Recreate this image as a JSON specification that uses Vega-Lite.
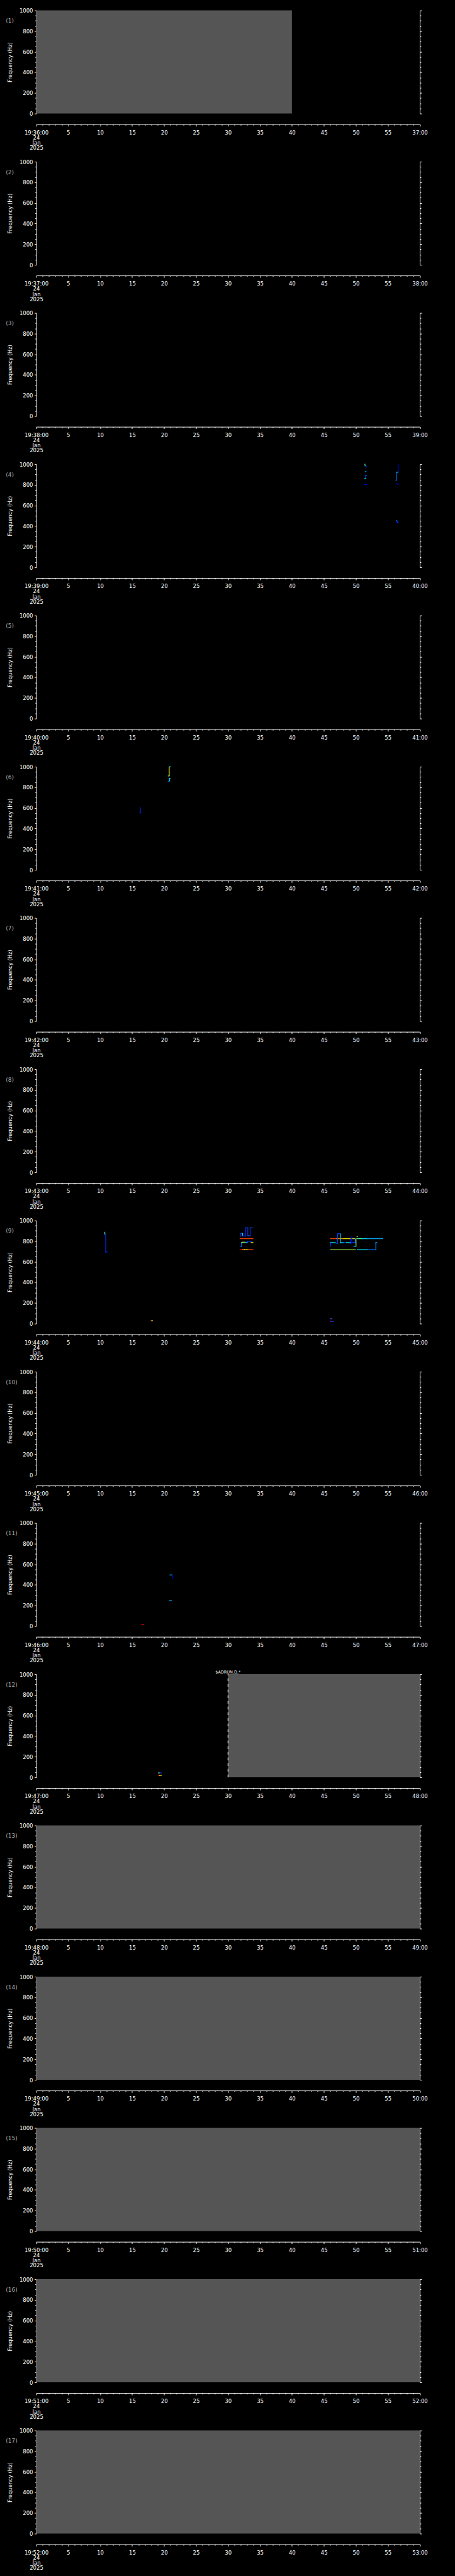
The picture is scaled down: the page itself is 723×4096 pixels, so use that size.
{
"$schema": "https://vega.github.io/schema/vega-lite/v6.json",
"background": "black",
"padding": {"left": 8.5, "top": 12.6, "right": 44, "bottom": 8},
"config": {
 "view": {"stroke": null},
 "font": "DejaVu Sans",
 "axis": {"domainColor": "white", "tickColor": "white", "labelColor": "white", "titleColor": "white", "labelFont": "DejaVu Sans", "labelFontSize": 8.5, "titleFont": "DejaVu Sans", "titleFontSize": 8.5, "titleFontWeight": "normal", "grid": false, "labelOverlap": false, "labelFlush": false, "labelBound": false, "domainWidth": 1, "tickWidth": 1},
 "axisX": {"labelPadding": 5.5, "labelLineHeight": 8.3},
 "axisY": {"labelPadding": 2.5, "titlePadding": 9.5}
},
"datasets": {"d": [
{"p":1,"k":"lab","lbl":"(1)"},{"p":2,"k":"lab","lbl":"(2)"},{"p":3,"k":"lab","lbl":"(3)"},{"p":4,"k":"lab","lbl":"(4)"},{"p":5,"k":"lab","lbl":"(5)"},{"p":6,"k":"lab","lbl":"(6)"},{"p":7,"k":"lab","lbl":"(7)"},{"p":8,"k":"lab","lbl":"(8)"},{"p":9,"k":"lab","lbl":"(9)"},{"p":10,"k":"lab","lbl":"(10)"},{"p":11,"k":"lab","lbl":"(11)"},{"p":12,"k":"lab","lbl":"(12)"},{"p":13,"k":"lab","lbl":"(13)"},{"p":14,"k":"lab","lbl":"(14)"},{"p":15,"k":"lab","lbl":"(15)"},{"p":16,"k":"lab","lbl":"(16)"},{"p":17,"k":"lab","lbl":"(17)"},
{"p":1,"k":"gap","t":0,"t2":40},
{"p":12,"k":"gap","t":30,"t2":60},
{"p":13,"k":"gap","t":0,"t2":60},
{"p":14,"k":"gap","t":0,"t2":60},
{"p":15,"k":"gap","t":0,"t2":60},
{"p":16,"k":"gap","t":0,"t2":60},
{"p":17,"k":"gap","t":0,"t2":60},
{"p":12,"k":"dash","t":30},
{"p":12,"k":"txt","t":30,"f":1000,"lbl":"$ADRUN,D,*"},
{"p":4,"k":"s","t":51.42,"t2":51.45,"f":1000,"f2":985,"v":0.5},
{"p":4,"k":"s","t":51.55,"t2":51.7,"f":980,"f2":980,"v":0.15},
{"p":4,"k":"s","t":51.46,"t2":51.62,"f":928,"f2":928,"v":0.3},
{"p":4,"k":"s","t":51.55,"t2":51.55,"f":893,"f2":863,"v":0.2},
{"p":4,"k":"s","t":51.55,"t2":51.71,"f":893,"f2":893,"v":0.2},
{"p":4,"k":"s","t":51.4,"t2":51.55,"f":863,"f2":863,"v":0.4},
{"p":4,"k":"s","t":51.4,"t2":51.67,"f":803,"f2":803,"v":0.12},
{"p":4,"k":"s","t":56.62,"t2":56.62,"f":1000,"f2":925,"v":0.12},
{"p":4,"k":"s","t":56.35,"t2":56.6,"f":922,"f2":922,"v":0.4},
{"p":4,"k":"s","t":56.34,"t2":56.34,"f":922,"f2":843,"v":0.25},
{"p":4,"k":"s","t":56.27,"t2":56.34,"f":845,"f2":845,"v":0.25},
{"p":4,"k":"s","t":56.34,"t2":56.65,"f":813,"f2":803,"v":0.12},
{"p":4,"k":"s","t":56.34,"t2":56.38,"f":451,"f2":451,"v":0.4},
{"p":4,"k":"s","t":56.48,"t2":56.48,"f":451,"f2":434,"v":0.15},
{"p":4,"k":"s","t":56.48,"t2":56.65,"f":434,"f2":434,"v":0.15},
{"p":6,"k":"s","t":20.81,"t2":20.81,"f":999,"f2":913,"v":0.75},
{"p":6,"k":"s","t":20.81,"t2":21.04,"f":999,"f2":999,"v":0.4},
{"p":6,"k":"s","t":20.65,"t2":20.8,"f":910,"f2":910,"v":0.5},
{"p":6,"k":"s","t":20.85,"t2":20.85,"f":887,"f2":861,"v":0.4},
{"p":6,"k":"s","t":20.85,"t2":20.95,"f":887,"f2":887,"v":0.4},
{"p":6,"k":"s","t":20.66,"t2":20.72,"f":858,"f2":858,"v":0.2},
{"p":6,"k":"s","t":16.28,"t2":16.28,"f":602,"f2":552,"v":0.15},
{"p":6,"k":"s","t":16.28,"t2":16.38,"f":552,"f2":552,"v":0.15},
{"p":9,"k":"s","t":10.74,"t2":10.74,"f":885,"f2":866,"v":0.5},
{"p":9,"k":"s","t":10.74,"t2":10.88,"f":866,"f2":866,"v":0.3},
{"p":9,"k":"s","t":10.88,"t2":10.88,"f":866,"f2":694,"v":0.15},
{"p":9,"k":"s","t":10.88,"t2":11.12,"f":694,"f2":694,"v":0.15},
{"p":9,"k":"s","t":17.94,"t2":18.06,"f":28,"f2":28,"v":1},
{"p":9,"k":"s","t":18.06,"t2":18.2,"f":28,"f2":28,"v":0.6},
{"p":9,"k":"s","t":31.89,"t2":33.91,"f":823,"f2":823,"v":0.97},
{"p":9,"k":"s","t":31.89,"t2":32.01,"f":849,"f2":849,"v":0.15},
{"p":9,"k":"s","t":32.01,"t2":32.01,"f":849,"f2":875,"v":0.15},
{"p":9,"k":"s","t":32.01,"t2":32.24,"f":875,"f2":875,"v":0.2},
{"p":9,"k":"s","t":32.29,"t2":32.29,"f":875,"f2":849,"v":0.4},
{"p":9,"k":"s","t":32.29,"t2":32.75,"f":849,"f2":849,"v":0.15},
{"p":9,"k":"s","t":32.75,"t2":32.75,"f":849,"f2":928,"v":0.15},
{"p":9,"k":"s","t":32.75,"t2":33.1,"f":928,"f2":928,"v":0.22},
{"p":9,"k":"s","t":33.1,"t2":33.1,"f":928,"f2":852,"v":0.15},
{"p":9,"k":"s","t":33.1,"t2":33.47,"f":852,"f2":852,"v":0.2},
{"p":9,"k":"s","t":33.47,"t2":33.47,"f":852,"f2":928,"v":0.15},
{"p":9,"k":"s","t":33.47,"t2":33.82,"f":928,"f2":928,"v":0.2},
{"p":9,"k":"s","t":32.01,"t2":32.12,"f":749,"f2":749,"v":0.3},
{"p":9,"k":"s","t":32.12,"t2":32.12,"f":749,"f2":785,"v":0.25},
{"p":9,"k":"s","t":32.12,"t2":32.24,"f":785,"f2":785,"v":0.5},
{"p":9,"k":"s","t":32.24,"t2":32.7,"f":789,"f2":789,"v":0.62},
{"p":9,"k":"s","t":32.7,"t2":33.05,"f":785,"f2":785,"v":0.4},
{"p":9,"k":"s","t":33.05,"t2":33.05,"f":785,"f2":799,"v":0.15},
{"p":9,"k":"s","t":33.05,"t2":33.63,"f":799,"f2":799,"v":0.18},
{"p":9,"k":"s","t":33.63,"t2":33.63,"f":799,"f2":785,"v":0.15},
{"p":9,"k":"s","t":33.63,"t2":33.91,"f":785,"f2":785,"v":0.72},
{"p":9,"k":"s","t":31.89,"t2":32.3,"f":717,"f2":717,"v":1},
{"p":9,"k":"s","t":32.3,"t2":32.6,"f":717,"f2":717,"v":0.85},
{"p":9,"k":"s","t":32.6,"t2":33.1,"f":717,"f2":717,"v":0.72},
{"p":9,"k":"s","t":33.1,"t2":33.91,"f":717,"f2":717,"v":0.95},
{"p":9,"k":"s","t":46.0,"t2":47.0,"f":823,"f2":823,"v":0.97},
{"p":9,"k":"s","t":47.0,"t2":48.1,"f":823,"f2":823,"v":0.85},
{"p":9,"k":"s","t":48.1,"t2":49.95,"f":823,"f2":823,"v":0.72},
{"p":9,"k":"s","t":50.17,"t2":51.0,"f":823,"f2":823,"v":0.5},
{"p":9,"k":"s","t":51.0,"t2":51.8,"f":823,"f2":823,"v":0.42},
{"p":9,"k":"s","t":51.8,"t2":54.22,"f":823,"f2":823,"v":0.33},
{"p":9,"k":"s","t":46.05,"t2":46.05,"f":749,"f2":785,"v":0.15},
{"p":9,"k":"s","t":46.05,"t2":46.8,"f":785,"f2":785,"v":0.42},
{"p":9,"k":"s","t":46.92,"t2":47.16,"f":777,"f2":777,"v":0.18},
{"p":9,"k":"s","t":47.16,"t2":47.16,"f":785,"f2":871,"v":0.18},
{"p":9,"k":"s","t":47.16,"t2":47.51,"f":871,"f2":871,"v":0.18},
{"p":9,"k":"s","t":47.58,"t2":47.58,"f":871,"f2":785,"v":0.4},
{"p":9,"k":"s","t":47.58,"t2":48.09,"f":785,"f2":785,"v":0.42},
{"p":9,"k":"s","t":48.09,"t2":48.55,"f":785,"f2":785,"v":0.18},
{"p":9,"k":"s","t":48.55,"t2":49.13,"f":785,"f2":785,"v":0.45},
{"p":9,"k":"s","t":49.24,"t2":49.24,"f":823,"f2":777,"v":0.15},
{"p":9,"k":"s","t":49.36,"t2":49.36,"f":846,"f2":777,"v":0.1},
{"p":9,"k":"s","t":49.48,"t2":49.9,"f":785,"f2":785,"v":0.18},
{"p":9,"k":"s","t":49.9,"t2":49.9,"f":823,"f2":785,"v":0.18},
{"p":9,"k":"s","t":49.7,"t2":49.9,"f":749,"f2":749,"v":0.35},
{"p":9,"k":"s","t":50.03,"t2":50.03,"f":749,"f2":823,"v":0.6},
{"p":9,"k":"s","t":50.17,"t2":50.28,"f":845,"f2":845,"v":0.6},
{"p":9,"k":"s","t":46.05,"t2":49.94,"f":717,"f2":717,"v":0.6},
{"p":9,"k":"s","t":50.2,"t2":51.79,"f":717,"f2":717,"v":0.42},
{"p":9,"k":"s","t":51.79,"t2":53.13,"f":717,"f2":717,"v":0.25},
{"p":9,"k":"s","t":53.13,"t2":53.13,"f":717,"f2":785,"v":0.28},
{"p":9,"k":"s","t":53.13,"t2":53.29,"f":785,"f2":785,"v":0.3},
{"p":9,"k":"s","t":46.0,"t2":46.1,"f":47,"f2":47,"v":1},
{"p":9,"k":"s","t":46.1,"t2":46.28,"f":47,"f2":47,"v":0.2},
{"p":9,"k":"s","t":46.0,"t2":46.15,"f":21,"f2":21,"v":1},
{"p":9,"k":"s","t":46.15,"t2":46.51,"f":21,"f2":21,"v":0.15},
{"p":11,"k":"s","t":20.93,"t2":21.25,"f":496,"f2":496,"v":0.35},
{"p":11,"k":"s","t":21.3,"t2":21.3,"f":494,"f2":458,"v":0.1},
{"p":11,"k":"s","t":20.84,"t2":21.16,"f":246,"f2":246,"v":0.35},
{"p":11,"k":"s","t":16.48,"t2":16.85,"f":17,"f2":17,"v":1},
{"p":12,"k":"s","t":19.12,"t2":19.35,"f":43,"f2":43,"v":0.55},
{"p":12,"k":"s","t":19.35,"t2":19.57,"f":43,"f2":43,"v":0.15},
{"p":12,"k":"s","t":19.12,"t2":19.3,"f":18,"f2":18,"v":1},
{"p":12,"k":"s","t":19.3,"t2":19.57,"f":18,"f2":18,"v":0.7}
]},
"data": {"name": "d"},
"bounds": "flush",
"spacing": 76.5,
"vconcat": [
{"width": 609.5, "height": 164, "transform": [{"filter": "datum.p == 1"}], "resolve": {"axis": {"x": "independent", "y": "independent"}}, "layer": [
 {"transform": [{"filter": "datum.k == 'gap'"}], "mark": {"type": "rect", "color": "#555555"}, "encoding": {
  "x": {"field": "t", "type": "quantitative", "scale": {"domain": [0, 60], "nice": false}, "axis": {"orient": "bottom", "title": null, "offset": 17, "tickCount": 60, "tickSize": {"condition": {"test": "datum.value % 5 == 0", "value": 3}, "value": 1.6}, "labelExpr": "datum.value == 0 ? ['19:36:00','24','Jan','2025'] : datum.value == 60 ? '37:00' : datum.value % 5 == 0 ? datum.label : ''"}},
  "x2": {"field": "t2"},
  "y": {"datum": 0, "type": "quantitative", "scale": {"domain": [0, 1000], "nice": false}, "axis": {"orient": "left", "title": "Frequency (Hz)", "format": "d", "tickCount": 20, "tickSize": {"condition": {"test": "datum.value % 200 == 0", "value": 3}, "value": 1.9}, "labelExpr": "datum.value % 200 == 0 ? datum.label : ''"}},
  "y2": {"datum": 1000}}},
 {"transform": [{"filter": "datum.k == 'dash'"}], "mark": {"type": "rule", "color": "white", "strokeWidth": 1, "strokeDash": [4.5, 4.5]}, "encoding": {
  "x": {"field": "t", "type": "quantitative", "scale": {"domain": [0, 60], "nice": false}, "axis": null},
  "y": {"datum": 0, "type": "quantitative", "scale": {"domain": [0, 1000], "nice": false}, "axis": {"orient": "right", "title": null, "labels": false, "tickCount": 20, "tickSize": {"condition": {"test": "datum.value % 200 == 0", "value": 3}, "value": 1.9}}},
  "y2": {"datum": 1000}}},
 {"transform": [{"filter": "datum.k == 'lab'"}], "mark": {"type": "text", "color": "#aaaaaa", "fontSize": 9, "align": "left", "baseline": "middle"}, "encoding": {
  "x": {"datum": -4.74, "type": "quantitative", "scale": {"domain": [0, 60], "nice": false}, "axis": null},
  "y": {"datum": 897, "type": "quantitative", "scale": {"domain": [0, 1000], "nice": false}, "axis": null},
  "text": {"field": "lbl"}}}
]},
{"width": 609.5, "height": 164, "transform": [{"filter": "datum.p == 2"}], "resolve": {"axis": {"x": "independent", "y": "independent"}}, "layer": [
 {"transform": [{"filter": "datum.k == 'gap'"}], "mark": {"type": "rect", "color": "#555555"}, "encoding": {
  "x": {"field": "t", "type": "quantitative", "scale": {"domain": [0, 60], "nice": false}, "axis": {"orient": "bottom", "title": null, "offset": 17, "tickCount": 60, "tickSize": {"condition": {"test": "datum.value % 5 == 0", "value": 3}, "value": 1.6}, "labelExpr": "datum.value == 0 ? ['19:37:00','24','Jan','2025'] : datum.value == 60 ? '38:00' : datum.value % 5 == 0 ? datum.label : ''"}},
  "x2": {"field": "t2"},
  "y": {"datum": 0, "type": "quantitative", "scale": {"domain": [0, 1000], "nice": false}, "axis": {"orient": "left", "title": "Frequency (Hz)", "format": "d", "tickCount": 20, "tickSize": {"condition": {"test": "datum.value % 200 == 0", "value": 3}, "value": 1.9}, "labelExpr": "datum.value % 200 == 0 ? datum.label : ''"}},
  "y2": {"datum": 1000}}},
 {"transform": [{"filter": "datum.k == 'dash'"}], "mark": {"type": "rule", "color": "white", "strokeWidth": 1, "strokeDash": [4.5, 4.5]}, "encoding": {
  "x": {"field": "t", "type": "quantitative", "scale": {"domain": [0, 60], "nice": false}, "axis": null},
  "y": {"datum": 0, "type": "quantitative", "scale": {"domain": [0, 1000], "nice": false}, "axis": {"orient": "right", "title": null, "labels": false, "tickCount": 20, "tickSize": {"condition": {"test": "datum.value % 200 == 0", "value": 3}, "value": 1.9}}},
  "y2": {"datum": 1000}}},
 {"transform": [{"filter": "datum.k == 'lab'"}], "mark": {"type": "text", "color": "#aaaaaa", "fontSize": 9, "align": "left", "baseline": "middle"}, "encoding": {
  "x": {"datum": -4.74, "type": "quantitative", "scale": {"domain": [0, 60], "nice": false}, "axis": null},
  "y": {"datum": 897, "type": "quantitative", "scale": {"domain": [0, 1000], "nice": false}, "axis": null},
  "text": {"field": "lbl"}}}
]},
{"width": 609.5, "height": 164, "transform": [{"filter": "datum.p == 3"}], "resolve": {"axis": {"x": "independent", "y": "independent"}}, "layer": [
 {"transform": [{"filter": "datum.k == 'gap'"}], "mark": {"type": "rect", "color": "#555555"}, "encoding": {
  "x": {"field": "t", "type": "quantitative", "scale": {"domain": [0, 60], "nice": false}, "axis": {"orient": "bottom", "title": null, "offset": 17, "tickCount": 60, "tickSize": {"condition": {"test": "datum.value % 5 == 0", "value": 3}, "value": 1.6}, "labelExpr": "datum.value == 0 ? ['19:38:00','24','Jan','2025'] : datum.value == 60 ? '39:00' : datum.value % 5 == 0 ? datum.label : ''"}},
  "x2": {"field": "t2"},
  "y": {"datum": 0, "type": "quantitative", "scale": {"domain": [0, 1000], "nice": false}, "axis": {"orient": "left", "title": "Frequency (Hz)", "format": "d", "tickCount": 20, "tickSize": {"condition": {"test": "datum.value % 200 == 0", "value": 3}, "value": 1.9}, "labelExpr": "datum.value % 200 == 0 ? datum.label : ''"}},
  "y2": {"datum": 1000}}},
 {"transform": [{"filter": "datum.k == 'dash'"}], "mark": {"type": "rule", "color": "white", "strokeWidth": 1, "strokeDash": [4.5, 4.5]}, "encoding": {
  "x": {"field": "t", "type": "quantitative", "scale": {"domain": [0, 60], "nice": false}, "axis": null},
  "y": {"datum": 0, "type": "quantitative", "scale": {"domain": [0, 1000], "nice": false}, "axis": {"orient": "right", "title": null, "labels": false, "tickCount": 20, "tickSize": {"condition": {"test": "datum.value % 200 == 0", "value": 3}, "value": 1.9}}},
  "y2": {"datum": 1000}}},
 {"transform": [{"filter": "datum.k == 'lab'"}], "mark": {"type": "text", "color": "#aaaaaa", "fontSize": 9, "align": "left", "baseline": "middle"}, "encoding": {
  "x": {"datum": -4.74, "type": "quantitative", "scale": {"domain": [0, 60], "nice": false}, "axis": null},
  "y": {"datum": 897, "type": "quantitative", "scale": {"domain": [0, 1000], "nice": false}, "axis": null},
  "text": {"field": "lbl"}}}
]},
{"width": 609.5, "height": 164, "transform": [{"filter": "datum.p == 4"}], "resolve": {"axis": {"x": "independent", "y": "independent"}}, "layer": [
 {"transform": [{"filter": "datum.k == 'gap'"}], "mark": {"type": "rect", "color": "#555555"}, "encoding": {
  "x": {"field": "t", "type": "quantitative", "scale": {"domain": [0, 60], "nice": false}, "axis": {"orient": "bottom", "title": null, "offset": 17, "tickCount": 60, "tickSize": {"condition": {"test": "datum.value % 5 == 0", "value": 3}, "value": 1.6}, "labelExpr": "datum.value == 0 ? ['19:39:00','24','Jan','2025'] : datum.value == 60 ? '40:00' : datum.value % 5 == 0 ? datum.label : ''"}},
  "x2": {"field": "t2"},
  "y": {"datum": 0, "type": "quantitative", "scale": {"domain": [0, 1000], "nice": false}, "axis": {"orient": "left", "title": "Frequency (Hz)", "format": "d", "tickCount": 20, "tickSize": {"condition": {"test": "datum.value % 200 == 0", "value": 3}, "value": 1.9}, "labelExpr": "datum.value % 200 == 0 ? datum.label : ''"}},
  "y2": {"datum": 1000}}},
 {"transform": [{"filter": "datum.k == 'dash'"}], "mark": {"type": "rule", "color": "white", "strokeWidth": 1, "strokeDash": [4.5, 4.5]}, "encoding": {
  "x": {"field": "t", "type": "quantitative", "scale": {"domain": [0, 60], "nice": false}, "axis": null},
  "y": {"datum": 0, "type": "quantitative", "scale": {"domain": [0, 1000], "nice": false}, "axis": {"orient": "right", "title": null, "labels": false, "tickCount": 20, "tickSize": {"condition": {"test": "datum.value % 200 == 0", "value": 3}, "value": 1.9}}},
  "y2": {"datum": 1000}}},
 {"transform": [{"filter": "datum.k == 's'"}], "mark": {"type": "rule", "strokeWidth": 1.2, "strokeCap": "square"}, "encoding": {
  "x": {"field": "t", "type": "quantitative", "scale": {"domain": [0, 60], "nice": false}, "axis": null},
  "x2": {"field": "t2"},
  "y": {"field": "f", "type": "quantitative", "scale": {"domain": [0, 1000], "nice": false}, "axis": null},
  "y2": {"field": "f2"},
  "color": {"field": "v", "type": "quantitative", "scale": {"domain": [0, 0.125, 0.25, 0.375, 0.5, 0.625, 0.75, 0.875, 1], "range": ["#0000c0", "#0000ff", "#0070ff", "#00d0ff", "#50ffb0", "#c8ff38", "#ffe800", "#ff8800", "#ff0000"]}, "legend": null}}},
 {"transform": [{"filter": "datum.k == 'lab'"}], "mark": {"type": "text", "color": "#aaaaaa", "fontSize": 9, "align": "left", "baseline": "middle"}, "encoding": {
  "x": {"datum": -4.74, "type": "quantitative", "scale": {"domain": [0, 60], "nice": false}, "axis": null},
  "y": {"datum": 897, "type": "quantitative", "scale": {"domain": [0, 1000], "nice": false}, "axis": null},
  "text": {"field": "lbl"}}}
]},
{"width": 609.5, "height": 164, "transform": [{"filter": "datum.p == 5"}], "resolve": {"axis": {"x": "independent", "y": "independent"}}, "layer": [
 {"transform": [{"filter": "datum.k == 'gap'"}], "mark": {"type": "rect", "color": "#555555"}, "encoding": {
  "x": {"field": "t", "type": "quantitative", "scale": {"domain": [0, 60], "nice": false}, "axis": {"orient": "bottom", "title": null, "offset": 17, "tickCount": 60, "tickSize": {"condition": {"test": "datum.value % 5 == 0", "value": 3}, "value": 1.6}, "labelExpr": "datum.value == 0 ? ['19:40:00','24','Jan','2025'] : datum.value == 60 ? '41:00' : datum.value % 5 == 0 ? datum.label : ''"}},
  "x2": {"field": "t2"},
  "y": {"datum": 0, "type": "quantitative", "scale": {"domain": [0, 1000], "nice": false}, "axis": {"orient": "left", "title": "Frequency (Hz)", "format": "d", "tickCount": 20, "tickSize": {"condition": {"test": "datum.value % 200 == 0", "value": 3}, "value": 1.9}, "labelExpr": "datum.value % 200 == 0 ? datum.label : ''"}},
  "y2": {"datum": 1000}}},
 {"transform": [{"filter": "datum.k == 'dash'"}], "mark": {"type": "rule", "color": "white", "strokeWidth": 1, "strokeDash": [4.5, 4.5]}, "encoding": {
  "x": {"field": "t", "type": "quantitative", "scale": {"domain": [0, 60], "nice": false}, "axis": null},
  "y": {"datum": 0, "type": "quantitative", "scale": {"domain": [0, 1000], "nice": false}, "axis": {"orient": "right", "title": null, "labels": false, "tickCount": 20, "tickSize": {"condition": {"test": "datum.value % 200 == 0", "value": 3}, "value": 1.9}}},
  "y2": {"datum": 1000}}},
 {"transform": [{"filter": "datum.k == 'lab'"}], "mark": {"type": "text", "color": "#aaaaaa", "fontSize": 9, "align": "left", "baseline": "middle"}, "encoding": {
  "x": {"datum": -4.74, "type": "quantitative", "scale": {"domain": [0, 60], "nice": false}, "axis": null},
  "y": {"datum": 897, "type": "quantitative", "scale": {"domain": [0, 1000], "nice": false}, "axis": null},
  "text": {"field": "lbl"}}}
]},
{"width": 609.5, "height": 164, "transform": [{"filter": "datum.p == 6"}], "resolve": {"axis": {"x": "independent", "y": "independent"}}, "layer": [
 {"transform": [{"filter": "datum.k == 'gap'"}], "mark": {"type": "rect", "color": "#555555"}, "encoding": {
  "x": {"field": "t", "type": "quantitative", "scale": {"domain": [0, 60], "nice": false}, "axis": {"orient": "bottom", "title": null, "offset": 17, "tickCount": 60, "tickSize": {"condition": {"test": "datum.value % 5 == 0", "value": 3}, "value": 1.6}, "labelExpr": "datum.value == 0 ? ['19:41:00','24','Jan','2025'] : datum.value == 60 ? '42:00' : datum.value % 5 == 0 ? datum.label : ''"}},
  "x2": {"field": "t2"},
  "y": {"datum": 0, "type": "quantitative", "scale": {"domain": [0, 1000], "nice": false}, "axis": {"orient": "left", "title": "Frequency (Hz)", "format": "d", "tickCount": 20, "tickSize": {"condition": {"test": "datum.value % 200 == 0", "value": 3}, "value": 1.9}, "labelExpr": "datum.value % 200 == 0 ? datum.label : ''"}},
  "y2": {"datum": 1000}}},
 {"transform": [{"filter": "datum.k == 'dash'"}], "mark": {"type": "rule", "color": "white", "strokeWidth": 1, "strokeDash": [4.5, 4.5]}, "encoding": {
  "x": {"field": "t", "type": "quantitative", "scale": {"domain": [0, 60], "nice": false}, "axis": null},
  "y": {"datum": 0, "type": "quantitative", "scale": {"domain": [0, 1000], "nice": false}, "axis": {"orient": "right", "title": null, "labels": false, "tickCount": 20, "tickSize": {"condition": {"test": "datum.value % 200 == 0", "value": 3}, "value": 1.9}}},
  "y2": {"datum": 1000}}},
 {"transform": [{"filter": "datum.k == 's'"}], "mark": {"type": "rule", "strokeWidth": 1.2, "strokeCap": "square"}, "encoding": {
  "x": {"field": "t", "type": "quantitative", "scale": {"domain": [0, 60], "nice": false}, "axis": null},
  "x2": {"field": "t2"},
  "y": {"field": "f", "type": "quantitative", "scale": {"domain": [0, 1000], "nice": false}, "axis": null},
  "y2": {"field": "f2"},
  "color": {"field": "v", "type": "quantitative", "scale": {"domain": [0, 0.125, 0.25, 0.375, 0.5, 0.625, 0.75, 0.875, 1], "range": ["#0000c0", "#0000ff", "#0070ff", "#00d0ff", "#50ffb0", "#c8ff38", "#ffe800", "#ff8800", "#ff0000"]}, "legend": null}}},
 {"transform": [{"filter": "datum.k == 'lab'"}], "mark": {"type": "text", "color": "#aaaaaa", "fontSize": 9, "align": "left", "baseline": "middle"}, "encoding": {
  "x": {"datum": -4.74, "type": "quantitative", "scale": {"domain": [0, 60], "nice": false}, "axis": null},
  "y": {"datum": 897, "type": "quantitative", "scale": {"domain": [0, 1000], "nice": false}, "axis": null},
  "text": {"field": "lbl"}}}
]},
{"width": 609.5, "height": 164, "transform": [{"filter": "datum.p == 7"}], "resolve": {"axis": {"x": "independent", "y": "independent"}}, "layer": [
 {"transform": [{"filter": "datum.k == 'gap'"}], "mark": {"type": "rect", "color": "#555555"}, "encoding": {
  "x": {"field": "t", "type": "quantitative", "scale": {"domain": [0, 60], "nice": false}, "axis": {"orient": "bottom", "title": null, "offset": 17, "tickCount": 60, "tickSize": {"condition": {"test": "datum.value % 5 == 0", "value": 3}, "value": 1.6}, "labelExpr": "datum.value == 0 ? ['19:42:00','24','Jan','2025'] : datum.value == 60 ? '43:00' : datum.value % 5 == 0 ? datum.label : ''"}},
  "x2": {"field": "t2"},
  "y": {"datum": 0, "type": "quantitative", "scale": {"domain": [0, 1000], "nice": false}, "axis": {"orient": "left", "title": "Frequency (Hz)", "format": "d", "tickCount": 20, "tickSize": {"condition": {"test": "datum.value % 200 == 0", "value": 3}, "value": 1.9}, "labelExpr": "datum.value % 200 == 0 ? datum.label : ''"}},
  "y2": {"datum": 1000}}},
 {"transform": [{"filter": "datum.k == 'dash'"}], "mark": {"type": "rule", "color": "white", "strokeWidth": 1, "strokeDash": [4.5, 4.5]}, "encoding": {
  "x": {"field": "t", "type": "quantitative", "scale": {"domain": [0, 60], "nice": false}, "axis": null},
  "y": {"datum": 0, "type": "quantitative", "scale": {"domain": [0, 1000], "nice": false}, "axis": {"orient": "right", "title": null, "labels": false, "tickCount": 20, "tickSize": {"condition": {"test": "datum.value % 200 == 0", "value": 3}, "value": 1.9}}},
  "y2": {"datum": 1000}}},
 {"transform": [{"filter": "datum.k == 'lab'"}], "mark": {"type": "text", "color": "#aaaaaa", "fontSize": 9, "align": "left", "baseline": "middle"}, "encoding": {
  "x": {"datum": -4.74, "type": "quantitative", "scale": {"domain": [0, 60], "nice": false}, "axis": null},
  "y": {"datum": 897, "type": "quantitative", "scale": {"domain": [0, 1000], "nice": false}, "axis": null},
  "text": {"field": "lbl"}}}
]},
{"width": 609.5, "height": 164, "transform": [{"filter": "datum.p == 8"}], "resolve": {"axis": {"x": "independent", "y": "independent"}}, "layer": [
 {"transform": [{"filter": "datum.k == 'gap'"}], "mark": {"type": "rect", "color": "#555555"}, "encoding": {
  "x": {"field": "t", "type": "quantitative", "scale": {"domain": [0, 60], "nice": false}, "axis": {"orient": "bottom", "title": null, "offset": 17, "tickCount": 60, "tickSize": {"condition": {"test": "datum.value % 5 == 0", "value": 3}, "value": 1.6}, "labelExpr": "datum.value == 0 ? ['19:43:00','24','Jan','2025'] : datum.value == 60 ? '44:00' : datum.value % 5 == 0 ? datum.label : ''"}},
  "x2": {"field": "t2"},
  "y": {"datum": 0, "type": "quantitative", "scale": {"domain": [0, 1000], "nice": false}, "axis": {"orient": "left", "title": "Frequency (Hz)", "format": "d", "tickCount": 20, "tickSize": {"condition": {"test": "datum.value % 200 == 0", "value": 3}, "value": 1.9}, "labelExpr": "datum.value % 200 == 0 ? datum.label : ''"}},
  "y2": {"datum": 1000}}},
 {"transform": [{"filter": "datum.k == 'dash'"}], "mark": {"type": "rule", "color": "white", "strokeWidth": 1, "strokeDash": [4.5, 4.5]}, "encoding": {
  "x": {"field": "t", "type": "quantitative", "scale": {"domain": [0, 60], "nice": false}, "axis": null},
  "y": {"datum": 0, "type": "quantitative", "scale": {"domain": [0, 1000], "nice": false}, "axis": {"orient": "right", "title": null, "labels": false, "tickCount": 20, "tickSize": {"condition": {"test": "datum.value % 200 == 0", "value": 3}, "value": 1.9}}},
  "y2": {"datum": 1000}}},
 {"transform": [{"filter": "datum.k == 'lab'"}], "mark": {"type": "text", "color": "#aaaaaa", "fontSize": 9, "align": "left", "baseline": "middle"}, "encoding": {
  "x": {"datum": -4.74, "type": "quantitative", "scale": {"domain": [0, 60], "nice": false}, "axis": null},
  "y": {"datum": 897, "type": "quantitative", "scale": {"domain": [0, 1000], "nice": false}, "axis": null},
  "text": {"field": "lbl"}}}
]},
{"width": 609.5, "height": 164, "transform": [{"filter": "datum.p == 9"}], "resolve": {"axis": {"x": "independent", "y": "independent"}}, "layer": [
 {"transform": [{"filter": "datum.k == 'gap'"}], "mark": {"type": "rect", "color": "#555555"}, "encoding": {
  "x": {"field": "t", "type": "quantitative", "scale": {"domain": [0, 60], "nice": false}, "axis": {"orient": "bottom", "title": null, "offset": 17, "tickCount": 60, "tickSize": {"condition": {"test": "datum.value % 5 == 0", "value": 3}, "value": 1.6}, "labelExpr": "datum.value == 0 ? ['19:44:00','24','Jan','2025'] : datum.value == 60 ? '45:00' : datum.value % 5 == 0 ? datum.label : ''"}},
  "x2": {"field": "t2"},
  "y": {"datum": 0, "type": "quantitative", "scale": {"domain": [0, 1000], "nice": false}, "axis": {"orient": "left", "title": "Frequency (Hz)", "format": "d", "tickCount": 20, "tickSize": {"condition": {"test": "datum.value % 200 == 0", "value": 3}, "value": 1.9}, "labelExpr": "datum.value % 200 == 0 ? datum.label : ''"}},
  "y2": {"datum": 1000}}},
 {"transform": [{"filter": "datum.k == 'dash'"}], "mark": {"type": "rule", "color": "white", "strokeWidth": 1, "strokeDash": [4.5, 4.5]}, "encoding": {
  "x": {"field": "t", "type": "quantitative", "scale": {"domain": [0, 60], "nice": false}, "axis": null},
  "y": {"datum": 0, "type": "quantitative", "scale": {"domain": [0, 1000], "nice": false}, "axis": {"orient": "right", "title": null, "labels": false, "tickCount": 20, "tickSize": {"condition": {"test": "datum.value % 200 == 0", "value": 3}, "value": 1.9}}},
  "y2": {"datum": 1000}}},
 {"transform": [{"filter": "datum.k == 's'"}], "mark": {"type": "rule", "strokeWidth": 1.2, "strokeCap": "square"}, "encoding": {
  "x": {"field": "t", "type": "quantitative", "scale": {"domain": [0, 60], "nice": false}, "axis": null},
  "x2": {"field": "t2"},
  "y": {"field": "f", "type": "quantitative", "scale": {"domain": [0, 1000], "nice": false}, "axis": null},
  "y2": {"field": "f2"},
  "color": {"field": "v", "type": "quantitative", "scale": {"domain": [0, 0.125, 0.25, 0.375, 0.5, 0.625, 0.75, 0.875, 1], "range": ["#0000c0", "#0000ff", "#0070ff", "#00d0ff", "#50ffb0", "#c8ff38", "#ffe800", "#ff8800", "#ff0000"]}, "legend": null}}},
 {"transform": [{"filter": "datum.k == 'lab'"}], "mark": {"type": "text", "color": "#aaaaaa", "fontSize": 9, "align": "left", "baseline": "middle"}, "encoding": {
  "x": {"datum": -4.74, "type": "quantitative", "scale": {"domain": [0, 60], "nice": false}, "axis": null},
  "y": {"datum": 897, "type": "quantitative", "scale": {"domain": [0, 1000], "nice": false}, "axis": null},
  "text": {"field": "lbl"}}}
]},
{"width": 609.5, "height": 164, "transform": [{"filter": "datum.p == 10"}], "resolve": {"axis": {"x": "independent", "y": "independent"}}, "layer": [
 {"transform": [{"filter": "datum.k == 'gap'"}], "mark": {"type": "rect", "color": "#555555"}, "encoding": {
  "x": {"field": "t", "type": "quantitative", "scale": {"domain": [0, 60], "nice": false}, "axis": {"orient": "bottom", "title": null, "offset": 17, "tickCount": 60, "tickSize": {"condition": {"test": "datum.value % 5 == 0", "value": 3}, "value": 1.6}, "labelExpr": "datum.value == 0 ? ['19:45:00','24','Jan','2025'] : datum.value == 60 ? '46:00' : datum.value % 5 == 0 ? datum.label : ''"}},
  "x2": {"field": "t2"},
  "y": {"datum": 0, "type": "quantitative", "scale": {"domain": [0, 1000], "nice": false}, "axis": {"orient": "left", "title": "Frequency (Hz)", "format": "d", "tickCount": 20, "tickSize": {"condition": {"test": "datum.value % 200 == 0", "value": 3}, "value": 1.9}, "labelExpr": "datum.value % 200 == 0 ? datum.label : ''"}},
  "y2": {"datum": 1000}}},
 {"transform": [{"filter": "datum.k == 'dash'"}], "mark": {"type": "rule", "color": "white", "strokeWidth": 1, "strokeDash": [4.5, 4.5]}, "encoding": {
  "x": {"field": "t", "type": "quantitative", "scale": {"domain": [0, 60], "nice": false}, "axis": null},
  "y": {"datum": 0, "type": "quantitative", "scale": {"domain": [0, 1000], "nice": false}, "axis": {"orient": "right", "title": null, "labels": false, "tickCount": 20, "tickSize": {"condition": {"test": "datum.value % 200 == 0", "value": 3}, "value": 1.9}}},
  "y2": {"datum": 1000}}},
 {"transform": [{"filter": "datum.k == 'lab'"}], "mark": {"type": "text", "color": "#aaaaaa", "fontSize": 9, "align": "left", "baseline": "middle"}, "encoding": {
  "x": {"datum": -4.74, "type": "quantitative", "scale": {"domain": [0, 60], "nice": false}, "axis": null},
  "y": {"datum": 897, "type": "quantitative", "scale": {"domain": [0, 1000], "nice": false}, "axis": null},
  "text": {"field": "lbl"}}}
]},
{"width": 609.5, "height": 164, "transform": [{"filter": "datum.p == 11"}], "resolve": {"axis": {"x": "independent", "y": "independent"}}, "layer": [
 {"transform": [{"filter": "datum.k == 'gap'"}], "mark": {"type": "rect", "color": "#555555"}, "encoding": {
  "x": {"field": "t", "type": "quantitative", "scale": {"domain": [0, 60], "nice": false}, "axis": {"orient": "bottom", "title": null, "offset": 17, "tickCount": 60, "tickSize": {"condition": {"test": "datum.value % 5 == 0", "value": 3}, "value": 1.6}, "labelExpr": "datum.value == 0 ? ['19:46:00','24','Jan','2025'] : datum.value == 60 ? '47:00' : datum.value % 5 == 0 ? datum.label : ''"}},
  "x2": {"field": "t2"},
  "y": {"datum": 0, "type": "quantitative", "scale": {"domain": [0, 1000], "nice": false}, "axis": {"orient": "left", "title": "Frequency (Hz)", "format": "d", "tickCount": 20, "tickSize": {"condition": {"test": "datum.value % 200 == 0", "value": 3}, "value": 1.9}, "labelExpr": "datum.value % 200 == 0 ? datum.label : ''"}},
  "y2": {"datum": 1000}}},
 {"transform": [{"filter": "datum.k == 'dash'"}], "mark": {"type": "rule", "color": "white", "strokeWidth": 1, "strokeDash": [4.5, 4.5]}, "encoding": {
  "x": {"field": "t", "type": "quantitative", "scale": {"domain": [0, 60], "nice": false}, "axis": null},
  "y": {"datum": 0, "type": "quantitative", "scale": {"domain": [0, 1000], "nice": false}, "axis": {"orient": "right", "title": null, "labels": false, "tickCount": 20, "tickSize": {"condition": {"test": "datum.value % 200 == 0", "value": 3}, "value": 1.9}}},
  "y2": {"datum": 1000}}},
 {"transform": [{"filter": "datum.k == 's'"}], "mark": {"type": "rule", "strokeWidth": 1.2, "strokeCap": "square"}, "encoding": {
  "x": {"field": "t", "type": "quantitative", "scale": {"domain": [0, 60], "nice": false}, "axis": null},
  "x2": {"field": "t2"},
  "y": {"field": "f", "type": "quantitative", "scale": {"domain": [0, 1000], "nice": false}, "axis": null},
  "y2": {"field": "f2"},
  "color": {"field": "v", "type": "quantitative", "scale": {"domain": [0, 0.125, 0.25, 0.375, 0.5, 0.625, 0.75, 0.875, 1], "range": ["#0000c0", "#0000ff", "#0070ff", "#00d0ff", "#50ffb0", "#c8ff38", "#ffe800", "#ff8800", "#ff0000"]}, "legend": null}}},
 {"transform": [{"filter": "datum.k == 'lab'"}], "mark": {"type": "text", "color": "#aaaaaa", "fontSize": 9, "align": "left", "baseline": "middle"}, "encoding": {
  "x": {"datum": -4.74, "type": "quantitative", "scale": {"domain": [0, 60], "nice": false}, "axis": null},
  "y": {"datum": 897, "type": "quantitative", "scale": {"domain": [0, 1000], "nice": false}, "axis": null},
  "text": {"field": "lbl"}}}
]},
{"width": 609.5, "height": 164, "transform": [{"filter": "datum.p == 12"}], "resolve": {"axis": {"x": "independent", "y": "independent"}}, "layer": [
 {"transform": [{"filter": "datum.k == 'gap'"}], "mark": {"type": "rect", "color": "#555555"}, "encoding": {
  "x": {"field": "t", "type": "quantitative", "scale": {"domain": [0, 60], "nice": false}, "axis": {"orient": "bottom", "title": null, "offset": 17, "tickCount": 60, "tickSize": {"condition": {"test": "datum.value % 5 == 0", "value": 3}, "value": 1.6}, "labelExpr": "datum.value == 0 ? ['19:47:00','24','Jan','2025'] : datum.value == 60 ? '48:00' : datum.value % 5 == 0 ? datum.label : ''"}},
  "x2": {"field": "t2"},
  "y": {"datum": 0, "type": "quantitative", "scale": {"domain": [0, 1000], "nice": false}, "axis": {"orient": "left", "title": "Frequency (Hz)", "format": "d", "tickCount": 20, "tickSize": {"condition": {"test": "datum.value % 200 == 0", "value": 3}, "value": 1.9}, "labelExpr": "datum.value % 200 == 0 ? datum.label : ''"}},
  "y2": {"datum": 1000}}},
 {"transform": [{"filter": "datum.k == 'dash'"}], "mark": {"type": "rule", "color": "white", "strokeWidth": 1, "strokeDash": [4.5, 4.5]}, "encoding": {
  "x": {"field": "t", "type": "quantitative", "scale": {"domain": [0, 60], "nice": false}, "axis": null},
  "y": {"datum": 0, "type": "quantitative", "scale": {"domain": [0, 1000], "nice": false}, "axis": {"orient": "right", "title": null, "labels": false, "tickCount": 20, "tickSize": {"condition": {"test": "datum.value % 200 == 0", "value": 3}, "value": 1.9}}},
  "y2": {"datum": 1000}}},
 {"transform": [{"filter": "datum.k == 's'"}], "mark": {"type": "rule", "strokeWidth": 1.2, "strokeCap": "square"}, "encoding": {
  "x": {"field": "t", "type": "quantitative", "scale": {"domain": [0, 60], "nice": false}, "axis": null},
  "x2": {"field": "t2"},
  "y": {"field": "f", "type": "quantitative", "scale": {"domain": [0, 1000], "nice": false}, "axis": null},
  "y2": {"field": "f2"},
  "color": {"field": "v", "type": "quantitative", "scale": {"domain": [0, 0.125, 0.25, 0.375, 0.5, 0.625, 0.75, 0.875, 1], "range": ["#0000c0", "#0000ff", "#0070ff", "#00d0ff", "#50ffb0", "#c8ff38", "#ffe800", "#ff8800", "#ff0000"]}, "legend": null}}},
 {"transform": [{"filter": "datum.k == 'txt'"}], "mark": {"type": "text", "color": "white", "fontSize": 6.5, "baseline": "alphabetic", "dy": -1}, "encoding": {
  "x": {"field": "t", "type": "quantitative", "scale": {"domain": [0, 60], "nice": false}, "axis": null},
  "y": {"field": "f", "type": "quantitative", "scale": {"domain": [0, 1000], "nice": false}, "axis": null},
  "text": {"field": "lbl"}}},
 {"transform": [{"filter": "datum.k == 'lab'"}], "mark": {"type": "text", "color": "#aaaaaa", "fontSize": 9, "align": "left", "baseline": "middle"}, "encoding": {
  "x": {"datum": -4.74, "type": "quantitative", "scale": {"domain": [0, 60], "nice": false}, "axis": null},
  "y": {"datum": 897, "type": "quantitative", "scale": {"domain": [0, 1000], "nice": false}, "axis": null},
  "text": {"field": "lbl"}}}
]},
{"width": 609.5, "height": 164, "transform": [{"filter": "datum.p == 13"}], "resolve": {"axis": {"x": "independent", "y": "independent"}}, "layer": [
 {"transform": [{"filter": "datum.k == 'gap'"}], "mark": {"type": "rect", "color": "#555555"}, "encoding": {
  "x": {"field": "t", "type": "quantitative", "scale": {"domain": [0, 60], "nice": false}, "axis": {"orient": "bottom", "title": null, "offset": 17, "tickCount": 60, "tickSize": {"condition": {"test": "datum.value % 5 == 0", "value": 3}, "value": 1.6}, "labelExpr": "datum.value == 0 ? ['19:48:00','24','Jan','2025'] : datum.value == 60 ? '49:00' : datum.value % 5 == 0 ? datum.label : ''"}},
  "x2": {"field": "t2"},
  "y": {"datum": 0, "type": "quantitative", "scale": {"domain": [0, 1000], "nice": false}, "axis": {"orient": "left", "title": "Frequency (Hz)", "format": "d", "tickCount": 20, "tickSize": {"condition": {"test": "datum.value % 200 == 0", "value": 3}, "value": 1.9}, "labelExpr": "datum.value % 200 == 0 ? datum.label : ''"}},
  "y2": {"datum": 1000}}},
 {"transform": [{"filter": "datum.k == 'dash'"}], "mark": {"type": "rule", "color": "white", "strokeWidth": 1, "strokeDash": [4.5, 4.5]}, "encoding": {
  "x": {"field": "t", "type": "quantitative", "scale": {"domain": [0, 60], "nice": false}, "axis": null},
  "y": {"datum": 0, "type": "quantitative", "scale": {"domain": [0, 1000], "nice": false}, "axis": {"orient": "right", "title": null, "labels": false, "tickCount": 20, "tickSize": {"condition": {"test": "datum.value % 200 == 0", "value": 3}, "value": 1.9}}},
  "y2": {"datum": 1000}}},
 {"transform": [{"filter": "datum.k == 'lab'"}], "mark": {"type": "text", "color": "#aaaaaa", "fontSize": 9, "align": "left", "baseline": "middle"}, "encoding": {
  "x": {"datum": -4.74, "type": "quantitative", "scale": {"domain": [0, 60], "nice": false}, "axis": null},
  "y": {"datum": 897, "type": "quantitative", "scale": {"domain": [0, 1000], "nice": false}, "axis": null},
  "text": {"field": "lbl"}}}
]},
{"width": 609.5, "height": 164, "transform": [{"filter": "datum.p == 14"}], "resolve": {"axis": {"x": "independent", "y": "independent"}}, "layer": [
 {"transform": [{"filter": "datum.k == 'gap'"}], "mark": {"type": "rect", "color": "#555555"}, "encoding": {
  "x": {"field": "t", "type": "quantitative", "scale": {"domain": [0, 60], "nice": false}, "axis": {"orient": "bottom", "title": null, "offset": 17, "tickCount": 60, "tickSize": {"condition": {"test": "datum.value % 5 == 0", "value": 3}, "value": 1.6}, "labelExpr": "datum.value == 0 ? ['19:49:00','24','Jan','2025'] : datum.value == 60 ? '50:00' : datum.value % 5 == 0 ? datum.label : ''"}},
  "x2": {"field": "t2"},
  "y": {"datum": 0, "type": "quantitative", "scale": {"domain": [0, 1000], "nice": false}, "axis": {"orient": "left", "title": "Frequency (Hz)", "format": "d", "tickCount": 20, "tickSize": {"condition": {"test": "datum.value % 200 == 0", "value": 3}, "value": 1.9}, "labelExpr": "datum.value % 200 == 0 ? datum.label : ''"}},
  "y2": {"datum": 1000}}},
 {"transform": [{"filter": "datum.k == 'dash'"}], "mark": {"type": "rule", "color": "white", "strokeWidth": 1, "strokeDash": [4.5, 4.5]}, "encoding": {
  "x": {"field": "t", "type": "quantitative", "scale": {"domain": [0, 60], "nice": false}, "axis": null},
  "y": {"datum": 0, "type": "quantitative", "scale": {"domain": [0, 1000], "nice": false}, "axis": {"orient": "right", "title": null, "labels": false, "tickCount": 20, "tickSize": {"condition": {"test": "datum.value % 200 == 0", "value": 3}, "value": 1.9}}},
  "y2": {"datum": 1000}}},
 {"transform": [{"filter": "datum.k == 'lab'"}], "mark": {"type": "text", "color": "#aaaaaa", "fontSize": 9, "align": "left", "baseline": "middle"}, "encoding": {
  "x": {"datum": -4.74, "type": "quantitative", "scale": {"domain": [0, 60], "nice": false}, "axis": null},
  "y": {"datum": 897, "type": "quantitative", "scale": {"domain": [0, 1000], "nice": false}, "axis": null},
  "text": {"field": "lbl"}}}
]},
{"width": 609.5, "height": 164, "transform": [{"filter": "datum.p == 15"}], "resolve": {"axis": {"x": "independent", "y": "independent"}}, "layer": [
 {"transform": [{"filter": "datum.k == 'gap'"}], "mark": {"type": "rect", "color": "#555555"}, "encoding": {
  "x": {"field": "t", "type": "quantitative", "scale": {"domain": [0, 60], "nice": false}, "axis": {"orient": "bottom", "title": null, "offset": 17, "tickCount": 60, "tickSize": {"condition": {"test": "datum.value % 5 == 0", "value": 3}, "value": 1.6}, "labelExpr": "datum.value == 0 ? ['19:50:00','24','Jan','2025'] : datum.value == 60 ? '51:00' : datum.value % 5 == 0 ? datum.label : ''"}},
  "x2": {"field": "t2"},
  "y": {"datum": 0, "type": "quantitative", "scale": {"domain": [0, 1000], "nice": false}, "axis": {"orient": "left", "title": "Frequency (Hz)", "format": "d", "tickCount": 20, "tickSize": {"condition": {"test": "datum.value % 200 == 0", "value": 3}, "value": 1.9}, "labelExpr": "datum.value % 200 == 0 ? datum.label : ''"}},
  "y2": {"datum": 1000}}},
 {"transform": [{"filter": "datum.k == 'dash'"}], "mark": {"type": "rule", "color": "white", "strokeWidth": 1, "strokeDash": [4.5, 4.5]}, "encoding": {
  "x": {"field": "t", "type": "quantitative", "scale": {"domain": [0, 60], "nice": false}, "axis": null},
  "y": {"datum": 0, "type": "quantitative", "scale": {"domain": [0, 1000], "nice": false}, "axis": {"orient": "right", "title": null, "labels": false, "tickCount": 20, "tickSize": {"condition": {"test": "datum.value % 200 == 0", "value": 3}, "value": 1.9}}},
  "y2": {"datum": 1000}}},
 {"transform": [{"filter": "datum.k == 'lab'"}], "mark": {"type": "text", "color": "#aaaaaa", "fontSize": 9, "align": "left", "baseline": "middle"}, "encoding": {
  "x": {"datum": -4.74, "type": "quantitative", "scale": {"domain": [0, 60], "nice": false}, "axis": null},
  "y": {"datum": 897, "type": "quantitative", "scale": {"domain": [0, 1000], "nice": false}, "axis": null},
  "text": {"field": "lbl"}}}
]},
{"width": 609.5, "height": 164, "transform": [{"filter": "datum.p == 16"}], "resolve": {"axis": {"x": "independent", "y": "independent"}}, "layer": [
 {"transform": [{"filter": "datum.k == 'gap'"}], "mark": {"type": "rect", "color": "#555555"}, "encoding": {
  "x": {"field": "t", "type": "quantitative", "scale": {"domain": [0, 60], "nice": false}, "axis": {"orient": "bottom", "title": null, "offset": 17, "tickCount": 60, "tickSize": {"condition": {"test": "datum.value % 5 == 0", "value": 3}, "value": 1.6}, "labelExpr": "datum.value == 0 ? ['19:51:00','24','Jan','2025'] : datum.value == 60 ? '52:00' : datum.value % 5 == 0 ? datum.label : ''"}},
  "x2": {"field": "t2"},
  "y": {"datum": 0, "type": "quantitative", "scale": {"domain": [0, 1000], "nice": false}, "axis": {"orient": "left", "title": "Frequency (Hz)", "format": "d", "tickCount": 20, "tickSize": {"condition": {"test": "datum.value % 200 == 0", "value": 3}, "value": 1.9}, "labelExpr": "datum.value % 200 == 0 ? datum.label : ''"}},
  "y2": {"datum": 1000}}},
 {"transform": [{"filter": "datum.k == 'dash'"}], "mark": {"type": "rule", "color": "white", "strokeWidth": 1, "strokeDash": [4.5, 4.5]}, "encoding": {
  "x": {"field": "t", "type": "quantitative", "scale": {"domain": [0, 60], "nice": false}, "axis": null},
  "y": {"datum": 0, "type": "quantitative", "scale": {"domain": [0, 1000], "nice": false}, "axis": {"orient": "right", "title": null, "labels": false, "tickCount": 20, "tickSize": {"condition": {"test": "datum.value % 200 == 0", "value": 3}, "value": 1.9}}},
  "y2": {"datum": 1000}}},
 {"transform": [{"filter": "datum.k == 'lab'"}], "mark": {"type": "text", "color": "#aaaaaa", "fontSize": 9, "align": "left", "baseline": "middle"}, "encoding": {
  "x": {"datum": -4.74, "type": "quantitative", "scale": {"domain": [0, 60], "nice": false}, "axis": null},
  "y": {"datum": 897, "type": "quantitative", "scale": {"domain": [0, 1000], "nice": false}, "axis": null},
  "text": {"field": "lbl"}}}
]},
{"width": 609.5, "height": 164, "transform": [{"filter": "datum.p == 17"}], "resolve": {"axis": {"x": "independent", "y": "independent"}}, "layer": [
 {"transform": [{"filter": "datum.k == 'gap'"}], "mark": {"type": "rect", "color": "#555555"}, "encoding": {
  "x": {"field": "t", "type": "quantitative", "scale": {"domain": [0, 60], "nice": false}, "axis": {"orient": "bottom", "title": null, "offset": 17, "tickCount": 60, "tickSize": {"condition": {"test": "datum.value % 5 == 0", "value": 3}, "value": 1.6}, "labelExpr": "datum.value == 0 ? ['19:52:00','24','Jan','2025'] : datum.value == 60 ? '53:00' : datum.value % 5 == 0 ? datum.label : ''"}},
  "x2": {"field": "t2"},
  "y": {"datum": 0, "type": "quantitative", "scale": {"domain": [0, 1000], "nice": false}, "axis": {"orient": "left", "title": "Frequency (Hz)", "format": "d", "tickCount": 20, "tickSize": {"condition": {"test": "datum.value % 200 == 0", "value": 3}, "value": 1.9}, "labelExpr": "datum.value % 200 == 0 ? datum.label : ''"}},
  "y2": {"datum": 1000}}},
 {"transform": [{"filter": "datum.k == 'dash'"}], "mark": {"type": "rule", "color": "white", "strokeWidth": 1, "strokeDash": [4.5, 4.5]}, "encoding": {
  "x": {"field": "t", "type": "quantitative", "scale": {"domain": [0, 60], "nice": false}, "axis": null},
  "y": {"datum": 0, "type": "quantitative", "scale": {"domain": [0, 1000], "nice": false}, "axis": {"orient": "right", "title": null, "labels": false, "tickCount": 20, "tickSize": {"condition": {"test": "datum.value % 200 == 0", "value": 3}, "value": 1.9}}},
  "y2": {"datum": 1000}}},
 {"transform": [{"filter": "datum.k == 'lab'"}], "mark": {"type": "text", "color": "#aaaaaa", "fontSize": 9, "align": "left", "baseline": "middle"}, "encoding": {
  "x": {"datum": -4.74, "type": "quantitative", "scale": {"domain": [0, 60], "nice": false}, "axis": null},
  "y": {"datum": 897, "type": "quantitative", "scale": {"domain": [0, 1000], "nice": false}, "axis": null},
  "text": {"field": "lbl"}}}
]}
]
}
